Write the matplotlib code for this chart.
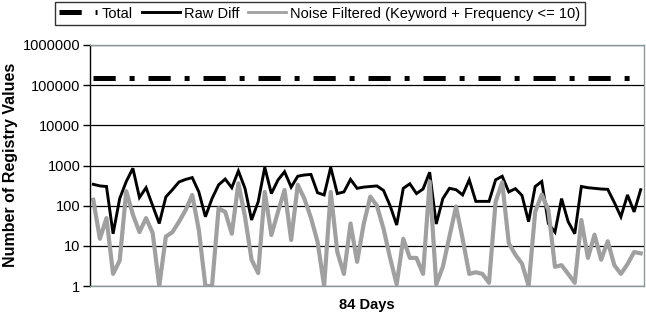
import numpy as np
import matplotlib.pyplot as plt
from matplotlib.lines import Line2D

plt.rcParams['font.family'] = ['Liberation Sans', 'DejaVu Sans']
plt.rcParams['lines.scale_dashes'] = False

# values (84 days, log scale)
total = [150000] * 84
raw_diff = [340, 310, 300, 20, 150, 400, 850, 160, 280, 100,
            36, 165, 250, 390, 450, 500, 220, 53, 150, 330,
            460, 280, 730, 270, 44, 125, 900, 200, 435, 700,
            290, 540, 580, 600, 210, 185, 900, 200, 220, 450,
            270, 290, 300, 310, 240, 100, 33, 270, 350, 200,
            260, 680, 35, 150, 270, 250, 185, 440, 128, 128,
            128, 440, 540, 220, 265, 180, 40, 300, 400, 36,
            22, 150, 40, 20, 300, 280, 270, 260, 255, 120,
            53, 185, 70, 250]
noise_filtered = [140, 15, 49, 2, 4.3, 230, 60, 22, 49, 21,
                  1, 17, 22, 40, 78, 185, 25, 1, 1, 86,
                  70, 20, 360, 53, 4.5, 2.1, 220, 18.6, 70, 245,
                  14, 330, 150, 50, 12.7, 1, 220, 7, 2, 36,
                  4, 35, 168, 100, 27, 5, 1.1, 15, 5, 5,
                  2, 400, 1.1, 3, 17, 95, 15, 2, 2.2, 2,
                  1.2, 125, 380, 11.6, 6, 3.6, 1, 70, 190, 78,
                  3, 3.3, 2, 1.2, 44, 5, 19, 4.5, 13, 3.3,
                  2, 3.5, 7, 6.5]
yticks = [1, 10, 100, 1000, 10000, 100000, 1000000]
ytick_labels = ['1', '10', '100', '1000', '10000', '100000', '1000000']

x = np.arange(len(raw_diff))

fig = plt.figure(figsize=(6.46, 3.21), dpi=100)
ax = fig.add_axes([90 / 646, 35 / 321, 554 / 646, 241 / 321])

ax.plot(x, total, color='black', lw=3.6, dashes=(16, 10, 3.6, 10), dash_capstyle='butt')
ax.plot(x, raw_diff, color='black', lw=2.1, solid_joinstyle='miter')
ax.plot(x, noise_filtered, color='#a0a0a0', lw=3.0)

ax.set_yscale('log')
ax.set_ylim(1, 1000000)
ax.set_xlim(-0.5, len(raw_diff) - 0.5)
ax.set_yticks(yticks)
ax.set_yticklabels(ytick_labels)
ax.minorticks_off()
ax.set_xticks([])
ax.yaxis.grid(True, color='black', lw=0.9)
ax.set_axisbelow(True)

for side in ['top', 'right', 'bottom']:
    ax.spines[side].set_color('#8a9a9a')
    ax.spines[side].set_linewidth(1.0)
ax.spines['left'].set_color('black')
ax.spines['left'].set_linewidth(1.0)
ax.tick_params(axis='y', direction='out', length=5, width=1, labelsize=10.5, pad=2)

ax.set_xlabel('84 Days', fontsize=10.5, fontweight='bold', labelpad=9)
fig.text(11 / 646, 1 - 165 / 321, 'Number of Registry Values', rotation=90,
         ha='center', va='center', fontsize=11.5, fontweight='bold')

handles = [
    Line2D([], [], color='black', lw=3.6, dashes=(16, 10, 3.6, 10)),
    Line2D([], [], color='black', lw=2.1),
    Line2D([], [], color='#a0a0a0', lw=2.0),
]
leg = fig.legend(handles, ['Total', 'Raw Diff', 'Noise Filtered (Keyword + Frequency <= 10)'],
                 loc='upper center', bbox_to_anchor=(320 / 646, 1.0), ncol=3, frameon=True,
                 fancybox=False, edgecolor='black', fontsize=10.5, handlelength=2.6,
                 handletextpad=0.3, columnspacing=0.6, borderpad=0.3, borderaxespad=0.15)
leg.get_frame().set_linewidth(1.0)

fig.savefig('out.png', dpi=100)
